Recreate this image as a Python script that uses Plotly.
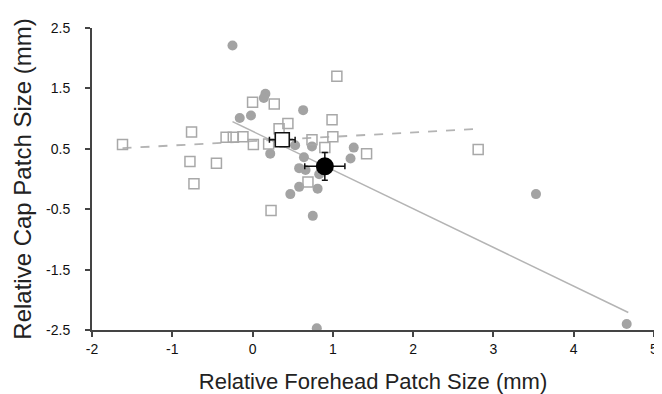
import plotly.graph_objects as go

# Filled circles (cap group A)
circle_x = [-0.25, 0.16, 0.14, 0.63, -0.16, -0.02, 0.22, 0.53, 0.74, 0.64, 0.58, 0.66, 0.83, 0.81, 0.58, 0.47, 0.75, 1.26, 1.22, 0.80, 3.53, 4.66]
circle_y = [2.21, 1.41, 1.34, 1.14, 1.01, 1.05, 0.42, 0.56, 0.54, 0.36, 0.18, 0.15, 0.08, -0.16, -0.13, -0.25, -0.61, 0.52, 0.34, -2.47, -0.25, -2.40]

# Open squares (group B)
square_x = [-1.62, -0.76, -0.78, -0.73, -0.45, -0.33, -0.24, -0.12, 0.00, 0.01, 0.27, 0.33, 0.44, 0.20, 0.74, 0.69, 0.23, 0.90, 0.99, 1.00, 1.05, 1.42, 2.81]
square_y = [0.57, 0.78, 0.29, -0.08, 0.26, 0.69, 0.69, 0.70, 1.27, 0.57, 1.24, 0.83, 0.92, 0.58, 0.65, -0.05, -0.52, 0.52, 0.98, 0.70, 1.70, 0.42, 0.49]

# Group means with error bars
mean_circle = dict(x=0.90, y=0.21, ex=0.25, ey=0.23)
mean_square = dict(x=0.37, y=0.65, ex=0.16, ey=0.11)

# Regression lines (endpoints)
fit_circle_x = [-0.25, 4.68]
fit_circle_y = [0.95, -2.21]
fit_square_x = [-1.62, 2.81]
fit_square_y = [0.51, 0.83]

x_ticks = [-2, -1, 0, 1, 2, 3, 4, 5]
y_ticks = [2.5, 1.5, 0.5, -0.5, -1.5, -2.5]

fig = go.Figure()
fig.add_trace(go.Scatter(x=fit_square_x, y=fit_square_y, mode="lines",
                         line=dict(color="#b4b4b4", width=1.8, dash="dash"), hoverinfo="skip"))
fig.add_trace(go.Scatter(x=fit_circle_x, y=fit_circle_y, mode="lines",
                         line=dict(color="#b4b4b4", width=1.5), hoverinfo="skip"))
fig.add_trace(go.Scatter(x=circle_x, y=circle_y, mode="markers",
                         marker=dict(symbol="circle", size=10, color="#a3a3a3", line=dict(width=0))))
fig.add_trace(go.Scatter(x=square_x, y=square_y, mode="markers",
                         marker=dict(symbol="square-open", size=10, color="#a8a8a8", line=dict(width=1.5))))
fig.add_trace(go.Scatter(x=[mean_square["x"]], y=[mean_square["y"]], mode="markers",
                         marker=dict(symbol="square", size=14, color="white", line=dict(color="#111", width=1.6)),
                         error_x=dict(type="data", array=[mean_square["ex"]], color="#111", thickness=1.5, width=3),
                         error_y=dict(type="data", array=[mean_square["ey"]], color="#111", thickness=1.5, width=3)))
fig.add_trace(go.Scatter(x=[mean_circle["x"]], y=[mean_circle["y"]], mode="markers",
                         marker=dict(symbol="circle", size=18, color="black"),
                         error_x=dict(type="data", array=[mean_circle["ex"]], color="#111", thickness=1.5, width=3),
                         error_y=dict(type="data", array=[mean_circle["ey"]], color="#111", thickness=1.5, width=3)))

font_family = "Liberation Sans, Arial, sans-serif"
fig.update_layout(
    width=662, height=394,
    margin=dict(l=84, r=14, t=16, b=72),
    paper_bgcolor="white", plot_bgcolor="white",
    showlegend=False,
    font=dict(family=font_family, color="#222"),
    xaxis=dict(range=[-2, 5], tickvals=x_ticks, ticktext=[str(v) for v in x_ticks],
               showgrid=False, zeroline=False, showline=True, linecolor="#444", linewidth=2,
               ticks="outside", ticklen=5, tickcolor="#444", tickwidth=1.5,
               tickfont=dict(size=14, color="#111"), ticklabelstandoff=0,
               title=dict(text="Relative Forehead Patch Size (mm)", font=dict(size=22, color="#222"), standoff=18)),
    yaxis=dict(range=[-2.5, 2.5], tickvals=y_ticks, ticktext=[str(v) for v in y_ticks],
               showgrid=False, zeroline=False, showline=True, linecolor="#444", linewidth=2,
               ticks="outside", ticklen=5, tickcolor="#444", tickwidth=1.5,
               tickfont=dict(size=14, color="#111"), ticklabelstandoff=12,
               title=dict(text="Relative Cap Patch Size (mm)", font=dict(size=24, color="#222"), standoff=8)),
)

fig.write_html("out.html")
